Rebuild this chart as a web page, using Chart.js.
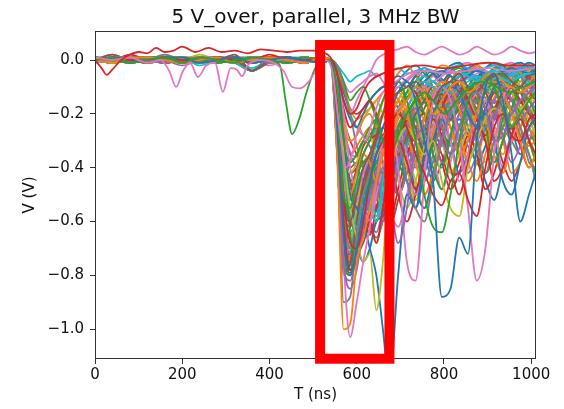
<!DOCTYPE html>
<html>
<head>
<meta charset="utf-8">
<script src="https://cdn.jsdelivr.net/npm/chart.js@4.4.1/dist/chart.umd.min.js"></script>
<style>
  body { margin: 0; background: #fff; }
</style>
</head>
<body>
<canvas id="chart" width="564" height="409"></canvas>
<script>
// sample times (ns) shared by most sweeps
const T = [0,40,80,120,160,200,240,280,320,360,400,440,480,520,540,555,570,585,600,615,630,645,660,675,695,715,735,755,775,795,815,835,855,875,895,915,935,955,975,995,1010];

// sweeps (V), one row per trace
const sweepsA = [
  [0.00,0.01,-0.01,0.00,0.01,0.01,-0.01,0.00,0.01,-0.01,0.00,0.01,0.00,-0.01, 0.00,-0.25,-0.65,-0.80,-0.70,-0.55,-0.45,-0.35,-0.25,-0.20,-0.12,-0.08,-0.15,-0.30,-0.45,-0.88,-0.85,-0.66,-0.72,-0.30,-0.10,-0.05,-0.15,-0.35,-0.60,-0.50,-0.42],
  [0.00,-0.01,0.01,0.01,0.00,-0.01,0.00,0.01,-0.01,0.00,0.01,0.00,-0.01,0.01, 0.00,-0.35,-1.00,-0.98,-0.75,-0.66,-0.55,-0.45,-0.35,-0.28,-0.20,-0.15,-0.10,-0.12,-0.20,-0.15,-0.10,-0.08,-0.12,-0.10,-0.06,-0.05,-0.08,-0.10,-0.12,-0.10,-0.08],
  [0.01,0.00,-0.01,0.01,0.00,0.01,0.00,-0.01,0.00,0.01,0.00,-0.01,0.01,0.00, 0.00,-0.20,-0.50,-0.55,-0.45,-0.35,-0.30,-0.22,-0.15,-0.10,-0.08,-0.15,-0.30,-0.50,-0.62,-0.64,-0.50,-0.30,-0.15,-0.10,-0.06,-0.10,-0.18,-0.25,-0.20,-0.15,-0.12],
  [0.00,0.01,0.00,-0.01,0.01,0.00,0.00,0.01,0.00,-0.01,0.01,0.01,0.00,0.00, 0.00,-0.15,-0.50,-0.68,-0.70,-0.60,-0.45,-0.35,-0.30,-0.25,-0.20,-0.25,-0.35,-0.42,-0.50,-0.54,-0.45,-0.42,-0.52,-0.58,-0.40,-0.25,-0.20,-0.28,-0.30,-0.22,-0.20],
  [0.00,0.00,0.01,0.00,-0.01,0.00,0.01,0.01,0.00,0.00,-0.01,0.00,0.01,0.00, 0.00,-0.30,-0.75,-0.85,-0.78,-0.62,-0.50,-0.45,-0.40,-0.50,-0.68,-0.55,-0.30,-0.25,-0.20,-0.30,-0.35,-0.25,-0.15,-0.12,-0.18,-0.30,-0.28,-0.20,-0.15,-0.12,-0.10],
  [0.00,0.01,0.00,0.01,-0.01,0.00,0.00,-0.01,0.01,-0.04,0.00,0.01,0.00,0.01, 0.00,-0.22,-0.55,-0.60,-0.50,-0.40,-0.35,-0.28,-0.20,-0.15,-0.12,-0.10,-0.08,-0.12,-0.15,-0.10,-0.08,-0.05,-0.10,-0.12,-0.08,-0.06,-0.05,-0.08,-0.10,-0.06,-0.05],
  [0.00,0.00,-0.01,0.01,0.00,0.00,0.01,-0.01,0.00,0.01,0.00,0.00,-0.01,0.00, 0.00,-0.20,-0.75,-1.03,-0.90,-0.75,-0.62,-0.45,-0.30,-0.25,-0.40,-0.75,-0.82,-0.45,-0.15,-0.10,-0.15,-0.30,-0.55,-0.82,-0.70,-0.35,-0.15,-0.10,-0.12,-0.10,-0.08],
  [0.01,0.00,0.00,-0.01,0.01,0.00,-0.01,0.00,0.01,0.00,0.00,0.01,-0.01,0.00, 0.00,-0.30,-0.90,-0.88,-0.65,-0.50,-0.42,-0.35,-0.30,-0.25,-0.30,-0.45,-0.55,-0.60,-0.45,-0.30,-0.20,-0.15,-0.12,-0.20,-0.25,-0.20,-0.15,-0.12,-0.10,-0.12,-0.10],
  [0.00,-0.01,0.00,0.01,0.00,0.01,-0.01,0.00,0.00,0.01,-0.01,0.00,0.01,0.00, 0.00,-0.10,-0.35,-0.55,-0.66,-0.75,-0.72,-0.93,-0.75,-0.45,-0.30,-0.25,-0.30,-0.35,-0.30,-0.45,-0.55,-0.58,-0.40,-0.30,-0.22,-0.18,-0.20,-0.25,-0.20,-0.15,-0.15],
  [0.00,0.01,0.01,0.00,-0.01,0.01,0.00,0.00,-0.01,-0.04,0.00,0.01,0.00,-0.01, 0.00,-0.10,-0.40,-0.55,-0.62,-0.55,-0.50,-0.58,-0.45,-0.30,-0.20,-0.15,-0.10,-0.08,-0.10,-0.12,-0.08,-0.05,-0.06,-0.08,-0.05,-0.04,-0.05,-0.06,-0.04,-0.03,-0.03],
  [0.00,-0.01,0.00,0.00,0.01,-0.01,0.00,0.01,0.00,0.00,0.01,-0.01,0.00,0.01, 0.00,-0.05,-0.30,-0.50,-0.55,-0.60,-0.70,-0.80,-1.00,-1.20,-0.80,-0.50,-0.55,-0.35,-0.20,-0.15,-0.10,-0.12,-0.20,-0.25,-0.18,-0.10,-0.08,-0.10,-0.12,-0.10,-0.08],
  [0.00,0.01,0.00,-0.01,0.00,0.01,0.01,0.00,-0.01,0.00,0.01,0.00,0.00,0.01, 0.00,-0.15,-0.45,-0.50,-0.42,-0.35,-0.38,-0.45,-0.35,-0.25,-0.15,-0.20,-0.30,-0.22,-0.12,-0.08,-0.10,-0.18,-0.28,-0.20,-0.10,-0.08,-0.12,-0.20,-0.30,-0.40,-0.35],
  [0.00,-0.01,0.00,0.01,0.01,0.00,-0.01,0.01,0.00,0.01,0.00,-0.01,0.01,0.00, 0.00,-0.05,-0.30,-0.65,-0.72,-0.60,-0.48,-0.40,-0.42,-0.35,-0.25,-0.20,-0.15,-0.20,-0.35,-0.40,-0.28,-0.15,-0.10,-0.12,-0.25,-0.38,-0.30,-0.18,-0.12,-0.15,-0.20],
  [0.01,0.00,0.02,0.00,-0.01,0.00,0.01,-0.01,0.01,0.00,0.02,0.00,-0.01,0.00, 0.00,-0.20,-0.60,-0.78,-0.75,-0.65,-0.60,-0.68,-0.55,-0.40,-0.30,-0.38,-0.48,-0.35,-0.22,-0.28,-0.40,-0.50,-0.38,-0.25,-0.30,-0.45,-0.40,-0.28,-0.22,-0.30,-0.35],
  [0.00,0.00,-0.01,0.01,0.00,-0.02,0.00,0.01,0.00,-0.01,0.01,0.01,0.00,-0.01, 0.00,-0.10,-0.40,-0.58,-0.62,-0.58,-0.52,-0.45,-0.50,-0.55,-0.40,-0.25,-0.18,-0.30,-0.42,-0.30,-0.18,-0.12,-0.20,-0.30,-0.22,-0.15,-0.10,-0.15,-0.22,-0.18,-0.15],
  [0.00,0.02,0.00,0.00,0.01,-0.01,0.01,0.00,0.02,-0.04,-0.01,0.00,0.01,0.00, 0.00,-0.25,-0.70,-0.75,-0.60,-0.45,-0.38,-0.30,-0.25,-0.30,-0.35,-0.28,-0.20,-0.15,-0.10,-0.15,-0.22,-0.18,-0.12,-0.08,-0.12,-0.18,-0.15,-0.10,-0.12,-0.20,-0.25],
  [-0.01,0.00,0.01,-0.01,0.00,0.01,-0.01,0.00,0.00,0.01,-0.02,0.00,0.01,0.00, 0.00,-0.05,-0.20,-0.40,-0.50,-0.55,-0.60,-0.50,-0.40,-0.30,-0.25,-0.35,-0.50,-0.40,-0.25,-0.20,-0.30,-0.45,-0.35,-0.20,-0.15,-0.25,-0.40,-0.30,-0.20,-0.15,-0.20],
  [0.00,0.01,-0.01,0.00,0.02,0.00,0.00,-0.01,0.01,0.00,0.00,0.01,-0.01,0.00, 0.00,-0.18,-0.55,-0.70,-0.60,-0.50,-0.45,-0.52,-0.42,-0.32,-0.25,-0.20,-0.30,-0.45,-0.35,-0.22,-0.15,-0.12,-0.18,-0.28,-0.42,-0.30,-0.20,-0.15,-0.25,-0.38,-0.40],
  [0.01,-0.01,0.00,0.01,0.00,0.00,0.02,0.00,-0.01,0.01,0.00,-0.01,0.00,0.01, 0.00,-0.12,-0.35,-0.42,-0.38,-0.30,-0.28,-0.35,-0.30,-0.22,-0.15,-0.10,-0.18,-0.30,-0.22,-0.15,-0.10,-0.08,-0.12,-0.20,-0.15,-0.10,-0.08,-0.12,-0.18,-0.15,-0.12],
  [0.00,0.01,0.00,-0.01,0.00,0.01,-0.02,0.00,0.01,-0.01,0.00,0.01,0.01,0.00, 0.00,-0.20,-0.62,-0.70,-0.58,-0.50,-0.55,-0.60,-0.50,-0.38,-0.30,-0.25,-0.20,-0.15,-0.12,-0.10,-0.12,-0.15,-0.10,-0.08,-0.06,-0.05,-0.07,-0.08,-0.06,-0.05,-0.05]
];
const sweepsB = [
  [0.00,0.00,0.01,-0.01,0.01,0.00,0.00,0.01,-0.01,0.00,0.01,-0.01,0.00,0.00, 0.00,-0.10,-0.35,-0.55,-0.68,-0.75,-0.70,-0.60,-0.58,-0.50,-0.35,-0.45,-0.55,-0.42,-0.30,-0.22,-0.30,-0.42,-0.35,-0.25,-0.20,-0.30,-0.45,-0.50,-0.38,-0.25,-0.22],
  [0.01,0.00,-0.01,0.00,0.01,0.01,0.00,-0.01,0.00,0.01,0.00,0.00,0.01,-0.01, 0.00,-0.08,-0.25,-0.30,-0.28,-0.22,-0.20,-0.25,-0.20,-0.15,-0.12,-0.18,-0.30,-0.38,-0.28,-0.18,-0.25,-0.35,-0.30,-0.20,-0.22,-0.35,-0.42,-0.30,-0.20,-0.25,-0.30],
  [0.00,-0.01,0.01,0.00,0.00,-0.01,0.01,0.00,0.01,0.00,-0.01,0.01,0.00,0.00, 0.00,-0.30,-0.75,-0.80,-0.65,-0.52,-0.45,-0.38,-0.45,-0.52,-0.42,-0.30,-0.22,-0.28,-0.40,-0.48,-0.35,-0.25,-0.20,-0.30,-0.42,-0.35,-0.22,-0.15,-0.20,-0.30,-0.38],
  [0.00,0.01,0.00,0.01,0.00,-0.01,0.00,0.00,0.01,-0.01,0.01,0.00,-0.01,0.01, 0.00,-0.05,-0.18,-0.25,-0.22,-0.18,-0.15,-0.20,-0.28,-0.22,-0.15,-0.10,-0.12,-0.20,-0.25,-0.18,-0.10,-0.08,-0.15,-0.22,-0.28,-0.20,-0.12,-0.10,-0.15,-0.20,-0.22],
  [0.01,0.00,0.00,-0.01,0.01,0.00,0.01,-0.01,0.00,0.00,0.01,0.00,-0.01,0.00, 0.00,-0.22,-0.60,-0.72,-0.70,-0.62,-0.55,-0.48,-0.42,-0.38,-0.32,-0.28,-0.35,-0.45,-0.38,-0.28,-0.22,-0.30,-0.42,-0.35,-0.25,-0.20,-0.28,-0.38,-0.32,-0.25,-0.22],
  [0.00,0.00,0.01,0.01,-0.01,0.00,0.00,0.01,0.00,-0.04,0.00,0.00,0.01,-0.01, 0.00,-0.10,-0.30,-0.45,-0.55,-0.48,-0.40,-0.45,-0.52,-0.40,-0.28,-0.20,-0.25,-0.35,-0.28,-0.18,-0.12,-0.18,-0.28,-0.22,-0.15,-0.12,-0.18,-0.25,-0.20,-0.15,-0.12],
  [0.00,0.02,0.00,0.00,0.01,0.00,-0.01,0.00,0.01,0.00,0.00,-0.01,0.01,0.00, 0.00,-0.15,-0.45,-0.55,-0.50,-0.42,-0.35,-0.30,-0.25,-0.22,-0.18,-0.15,-0.12,-0.10,-0.15,-0.22,-0.30,-0.25,-0.18,-0.12,-0.10,-0.08,-0.12,-0.18,-0.15,-0.10,-0.08],
  [-0.01,0.00,0.01,0.00,-0.01,0.01,0.00,0.00,-0.01,0.01,0.00,0.01,0.00,-0.01, 0.00,-0.02,-0.10,-0.20,-0.32,-0.40,-0.45,-0.40,-0.35,-0.30,-0.35,-0.42,-0.35,-0.25,-0.18,-0.25,-0.35,-0.30,-0.20,-0.15,-0.22,-0.30,-0.25,-0.18,-0.12,-0.18,-0.25],
  [0.00,0.01,-0.01,0.01,0.00,0.00,0.01,0.00,-0.01,0.00,0.01,-0.01,0.00,0.01, 0.00,-0.28,-0.72,-0.70,-0.55,-0.45,-0.50,-0.58,-0.50,-0.42,-0.45,-0.55,-0.45,-0.32,-0.25,-0.30,-0.42,-0.35,-0.25,-0.20,-0.28,-0.38,-0.30,-0.22,-0.18,-0.22,-0.28],
  [0.00,0.00,0.00,0.01,-0.01,0.01,0.00,-0.01,0.00,-0.04,0.01,0.00,0.00,0.00, 0.00,-0.12,-0.40,-0.50,-0.48,-0.42,-0.38,-0.32,-0.30,-0.35,-0.40,-0.32,-0.22,-0.15,-0.12,-0.15,-0.20,-0.15,-0.10,-0.08,-0.10,-0.12,-0.10,-0.08,-0.06,-0.08,-0.10],
  [0.01,0.00,0.01,-0.01,0.00,0.00,-0.01,0.01,0.00,0.00,-0.01,0.01,0.00,0.00, 0.00,-0.05,-0.15,-0.22,-0.25,-0.20,-0.15,-0.12,-0.10,-0.08,-0.06,-0.08,-0.10,-0.08,-0.05,-0.04,-0.06,-0.08,-0.06,-0.04,-0.05,-0.06,-0.04,-0.03,-0.04,-0.05,-0.04],
  [0.00,-0.01,0.00,0.00,0.01,0.01,0.00,-0.01,0.01,0.00,0.00,0.00,-0.01,0.01, 0.00,-0.20,-0.55,-0.65,-0.62,-0.55,-0.48,-0.50,-0.55,-0.45,-0.35,-0.30,-0.38,-0.50,-0.42,-0.30,-0.22,-0.28,-0.38,-0.45,-0.35,-0.25,-0.30,-0.42,-0.38,-0.30,-0.35],
  [0.00,0.01,0.01,0.00,0.00,-0.01,0.01,0.00,0.00,0.01,-0.01,0.00,0.01,0.00, 0.00,-0.02,-0.08,-0.15,-0.12,-0.10,-0.15,-0.22,-0.30,-0.25,-0.18,-0.12,-0.10,-0.15,-0.20,-0.15,-0.10,-0.08,-0.12,-0.18,-0.12,-0.08,-0.06,-0.10,-0.15,-0.12,-0.10],
  [0.01,0.00,0.00,0.01,-0.01,0.00,0.01,0.00,0.01,-0.01,0.00,0.00,0.00,-0.01, 0.00,-0.25,-0.68,-0.62,-0.50,-0.58,-0.65,-0.55,-0.45,-0.38,-0.50,-0.60,-0.50,-0.38,-0.30,-0.35,-0.45,-0.38,-0.28,-0.35,-0.48,-0.42,-0.30,-0.25,-0.32,-0.40,-0.35],
  [0.00,0.00,-0.01,0.01,0.01,0.00,-0.01,0.00,0.00,0.01,0.01,-0.01,0.00,0.01, 0.00,-0.08,-0.25,-0.35,-0.40,-0.45,-0.50,-0.42,-0.35,-0.40,-0.50,-0.42,-0.30,-0.22,-0.28,-0.38,-0.30,-0.20,-0.15,-0.20,-0.28,-0.22,-0.15,-0.12,-0.18,-0.25,-0.20],
  [0.00,0.01,0.00,-0.01,0.00,0.01,0.00,0.01,-0.01,-0.04,0.00,0.01,-0.01,0.00, 0.00,-0.15,-0.42,-0.48,-0.40,-0.32,-0.28,-0.25,-0.30,-0.38,-0.30,-0.20,-0.15,-0.12,-0.18,-0.25,-0.20,-0.12,-0.10,-0.15,-0.22,-0.18,-0.12,-0.10,-0.12,-0.15,-0.12],
  [0.01,0.00,0.01,0.00,0.02,0.00,0.01,-0.01,0.00,0.01,0.00,0.01,0.00,0.00, 0.00,-0.05,-0.15,-0.20,-0.15,-0.10,-0.05,0.00,0.02,0.03,0.04,0.05,0.03,0.02,0.035,0.05,0.035,0.02,0.03,0.05,0.035,0.02,0.03,0.05,0.035,0.025,0.03],
  [0.00,-0.01,0.00,0.01,0.00,0.00,-0.01,0.01,0.01,0.00,-0.01,0.00,0.01,-0.01, 0.00,-0.10,-0.32,-0.38,-0.35,-0.30,-0.32,-0.38,-0.42,-0.35,-0.25,-0.18,-0.22,-0.30,-0.38,-0.30,-0.20,-0.15,-0.18,-0.25,-0.30,-0.22,-0.15,-0.18,-0.28,-0.35,-0.45],
  [0.00,0.01,0.00,0.00,-0.01,0.01,0.01,0.00,-0.01,0.00,0.01,0.00,0.00,0.01, 0.00,-0.05,-0.20,-0.30,-0.28,-0.22,-0.18,-0.15,-0.20,-0.25,-0.30,-0.40,-0.52,-0.40,-0.25,-0.15,-0.12,-0.18,-0.25,-0.20,-0.12,-0.10,-0.15,-0.22,-0.18,-0.12,-0.10],
  [0.00,0.00,0.01,0.00,0.00,-0.01,0.00,0.01,0.00,-0.04,0.00,-0.01,0.01,0.00, 0.00,-0.22,-0.58,-0.65,-0.60,-0.52,-0.45,-0.42,-0.40,-0.35,-0.25,-0.18,-0.12,-0.10,-0.08,-0.10,-0.12,-0.10,-0.08,-0.06,-0.08,-0.10,-0.08,-0.05,-0.04,-0.05,-0.06]
];
const sweepsC = [
  [0.01,0.00,-0.01,0.00,0.01,0.00,0.00,-0.01,0.01,0.01,0.00,-0.01,0.00,0.01, 0.00,-0.15,-0.50,-0.60,-0.55,-0.48,-0.42,-0.38,-0.35,-0.30,-0.25,-0.35,-0.48,-0.55,-0.42,-0.30,-0.22,-0.18,-0.25,-0.35,-0.45,-0.52,-0.40,-0.28,-0.20,-0.25,-0.30],
  [0.00,0.01,0.00,0.01,0.00,-0.01,0.01,0.00,0.00,0.00,0.01,0.01,-0.01,0.00, 0.00,-0.03,-0.10,-0.18,-0.22,-0.20,-0.18,-0.15,-0.12,-0.10,-0.15,-0.22,-0.18,-0.12,-0.10,-0.15,-0.25,-0.35,-0.45,-0.38,-0.25,-0.18,-0.22,-0.30,-0.25,-0.20,-0.22],
  [0.00,-0.01,0.01,0.00,0.01,0.00,-0.01,0.00,0.01,0.00,0.00,0.00,0.01,0.00, 0.00,-0.18,-0.50,-0.55,-0.48,-0.40,-0.35,-0.32,-0.38,-0.45,-0.50,-0.42,-0.30,-0.22,-0.18,-0.25,-0.32,-0.25,-0.18,-0.20,-0.30,-0.38,-0.30,-0.22,-0.25,-0.35,-0.42],
  [0.01,0.00,0.00,0.00,-0.01,0.01,0.00,0.01,-0.01,0.00,0.01,0.00,0.00,-0.01, 0.00,-0.12,-0.35,-0.42,-0.40,-0.35,-0.30,-0.28,-0.32,-0.38,-0.30,-0.22,-0.18,-0.20,-0.28,-0.25,-0.18,-0.12,-0.10,-0.12,-0.18,-0.22,-0.18,-0.12,-0.10,-0.12,-0.15],
  [0.00,0.00,0.01,-0.01,0.00,0.01,0.00,0.00,0.01,-0.01,0.00,0.01,0.00,0.00, 0.00,-0.30,-0.78,-0.82,-0.72,-0.60,-0.52,-0.55,-0.60,-0.50,-0.38,-0.30,-0.25,-0.30,-0.38,-0.30,-0.22,-0.25,-0.32,-0.28,-0.20,-0.15,-0.20,-0.28,-0.25,-0.18,-0.15],
  [0.00,0.01,0.00,0.00,0.01,-0.01,0.00,-0.01,0.00,-0.04,0.01,0.00,-0.01,0.01, 0.00,-0.05,-0.12,-0.18,-0.20,-0.18,-0.15,-0.12,-0.10,-0.12,-0.18,-0.25,-0.30,-0.22,-0.15,-0.10,-0.08,-0.10,-0.15,-0.20,-0.15,-0.10,-0.08,-0.10,-0.12,-0.10,-0.08],
  [0.00,0.00,-0.01,0.01,0.00,0.00,0.01,0.00,-0.01,0.01,0.00,0.00,0.01,0.00, 0.00,-0.22,-0.62,-0.68,-0.60,-0.50,-0.42,-0.38,-0.45,-0.55,-0.62,-0.50,-0.35,-0.28,-0.35,-0.48,-0.38,-0.25,-0.20,-0.28,-0.38,-0.30,-0.20,-0.15,-0.20,-0.28,-0.25],
  [0.01,-0.01,0.00,0.00,0.01,0.00,0.00,0.01,0.00,-0.01,0.00,0.01,0.00,-0.01, 0.00,-0.18,-0.48,-0.58,-0.52,-0.45,-0.40,-0.35,-0.30,-0.28,-0.32,-0.40,-0.48,-0.38,-0.25,-0.20,-0.25,-0.32,-0.28,-0.20,-0.15,-0.18,-0.25,-0.30,-0.35,-0.30,-0.25],
  [0.00,0.01,0.01,0.00,0.00,-0.01,0.01,0.00,0.00,0.01,-0.01,0.00,0.00,0.01, 0.00,-0.10,-0.30,-0.48,-0.58,-0.52,-0.45,-0.40,-0.42,-0.48,-0.40,-0.30,-0.38,-0.50,-0.42,-0.30,-0.25,-0.30,-0.38,-0.30,-0.22,-0.28,-0.35,-0.28,-0.20,-0.18,-0.20],
  [0.00,0.00,0.00,0.01,-0.01,0.00,0.01,-0.01,0.01,0.00,0.00,-0.01,0.01,0.00, 0.00,-0.03,-0.12,-0.20,-0.25,-0.28,-0.30,-0.25,-0.20,-0.15,-0.12,-0.10,-0.08,-0.06,-0.08,-0.10,-0.08,-0.06,-0.05,-0.07,-0.09,-0.07,-0.05,-0.04,-0.06,-0.05,-0.04],
  [0.01,0.00,0.00,-0.01,0.00,0.01,0.00,0.00,-0.01,0.01,0.01,0.00,0.00,-0.01, 0.00,-0.25,-0.70,-0.72,-0.60,-0.50,-0.45,-0.48,-0.55,-0.50,-0.40,-0.32,-0.28,-0.35,-0.45,-0.38,-0.28,-0.22,-0.28,-0.38,-0.32,-0.22,-0.18,-0.25,-0.35,-0.30,-0.25],
  [0.00,-0.01,0.01,0.00,0.00,0.01,-0.01,0.01,0.00,0.00,0.00,0.01,-0.01,0.00, 0.00,-0.10,-0.28,-0.35,-0.32,-0.28,-0.25,-0.30,-0.38,-0.32,-0.22,-0.18,-0.22,-0.30,-0.25,-0.18,-0.15,-0.20,-0.28,-0.32,-0.25,-0.18,-0.15,-0.20,-0.28,-0.32,-0.30],
  [0.00,0.01,0.00,0.01,0.01,0.00,0.00,-0.01,0.00,0.01,-0.01,0.00,0.01,0.00, 0.00,-0.15,-0.38,-0.45,-0.42,-0.38,-0.35,-0.30,-0.28,-0.32,-0.38,-0.45,-0.50,-0.42,-0.32,-0.25,-0.20,-0.25,-0.32,-0.38,-0.42,-0.35,-0.25,-0.20,-0.18,-0.25,-0.32],
  [0.01,0.00,-0.01,0.00,0.00,0.00,0.01,0.00,0.01,-0.01,0.00,0.00,-0.01,0.01, 0.00,-0.08,-0.22,-0.30,-0.35,-0.38,-0.42,-0.48,-0.55,-0.60,-0.48,-0.35,-0.28,-0.25,-0.30,-0.38,-0.48,-0.42,-0.30,-0.22,-0.20,-0.28,-0.38,-0.45,-0.38,-0.30,-0.28],
  [0.00,0.00,0.01,0.00,-0.01,0.01,0.00,0.01,0.00,0.00,0.01,-0.01,0.00,0.00, 0.00,-0.20,-0.55,-0.62,-0.55,-0.48,-0.42,-0.38,-0.35,-0.30,-0.28,-0.32,-0.40,-0.35,-0.25,-0.20,-0.25,-0.30,-0.25,-0.18,-0.15,-0.20,-0.28,-0.25,-0.18,-0.15,-0.18],
  [0.00,0.01,0.00,0.00,0.01,-0.01,0.01,0.00,-0.01,-0.04,0.00,0.01,0.00,0.00, 0.00,-0.12,-0.35,-0.40,-0.38,-0.40,-0.45,-0.50,-0.45,-0.38,-0.30,-0.25,-0.22,-0.20,-0.25,-0.32,-0.28,-0.20,-0.15,-0.18,-0.25,-0.30,-0.25,-0.18,-0.15,-0.18,-0.22],
  [0.01,0.00,0.01,-0.01,0.00,0.00,0.01,0.00,0.01,0.00,-0.01,0.00,0.01,0.00, 0.00,-0.02,-0.08,-0.12,-0.10,-0.08,-0.06,-0.05,-0.08,-0.12,-0.10,-0.07,-0.05,-0.06,-0.08,-0.06,-0.04,-0.05,-0.07,-0.05,-0.04,-0.06,-0.08,-0.06,-0.04,-0.05,-0.06],
  [0.00,0.00,0.00,0.01,0.00,-0.01,0.00,0.01,0.00,0.01,0.00,-0.01,0.00,0.01, 0.00,-0.20,-0.52,-0.55,-0.48,-0.50,-0.55,-0.48,-0.40,-0.35,-0.38,-0.45,-0.38,-0.28,-0.22,-0.28,-0.35,-0.30,-0.22,-0.18,-0.22,-0.30,-0.35,-0.28,-0.20,-0.22,-0.28],
  [0.00,-0.01,0.00,0.00,0.01,0.01,-0.01,0.00,0.01,0.00,0.01,0.00,-0.01,0.00, 0.00,-0.25,-0.65,-0.68,-0.55,-0.45,-0.50,-0.60,-0.50,-0.38,-0.28,-0.35,-0.45,-0.55,-0.45,-0.30,-0.22,-0.25,-0.35,-0.30,-0.20,-0.15,-0.20,-0.30,-0.25,-0.18,-0.20],
  [0.01,0.00,0.01,0.00,0.00,0.00,-0.01,0.00,0.00,-0.03,0.00,0.01,0.00,0.00, 0.00,-0.02,-0.05,-0.08,-0.06,-0.05,-0.04,-0.06,-0.05,-0.04,-0.03,-0.05,-0.04,-0.03,-0.04,-0.05,-0.03,-0.02,-0.03,-0.04,-0.03,-0.02,-0.03,-0.04,-0.03,-0.02,-0.03]
];
const sweepsD = [
  [0.00,0.01,0.00,-0.01,0.01,0.00,0.01,0.00,-0.01,0.00,0.00,0.01,0.00,-0.01, 0.00,-0.30,-0.78,-0.76,-0.62,-0.50,-0.40,-0.30,-0.20,-0.12,-0.08,-0.10,-0.06,-0.03,-0.05,-0.08,-0.04,-0.02,-0.05,-0.07,-0.03,-0.02,-0.04,-0.06,-0.03,-0.02,-0.04],
  [0.01,0.00,-0.01,0.00,0.00,0.01,-0.01,0.00,0.01,0.00,-0.01,0.00,0.01,0.00, 0.00,-0.32,-0.80,-0.72,-0.55,-0.45,-0.38,-0.25,-0.15,-0.10,-0.05,-0.02,-0.06,-0.10,-0.05,-0.02,-0.03,-0.08,-0.05,-0.02,-0.04,-0.07,-0.04,-0.02,-0.05,-0.08,-0.05],
  [0.00,-0.01,0.01,0.01,0.00,0.00,0.00,0.01,-0.01,0.01,0.00,-0.01,0.00,0.01, 0.00,-0.28,-0.70,-0.78,-0.70,-0.60,-0.52,-0.42,-0.30,-0.18,-0.10,-0.14,-0.08,-0.04,-0.10,-0.15,-0.08,-0.04,-0.06,-0.12,-0.08,-0.03,-0.05,-0.10,-0.06,-0.03,-0.05],
  [0.00,0.00,0.01,-0.01,0.01,0.00,-0.01,0.00,0.00,0.01,0.01,0.00,-0.01,0.00, 0.00,-0.25,-0.68,-0.74,-0.66,-0.62,-0.58,-0.50,-0.40,-0.30,-0.20,-0.15,-0.10,-0.15,-0.20,-0.12,-0.06,-0.10,-0.16,-0.10,-0.05,-0.08,-0.14,-0.10,-0.05,-0.07,-0.10],
  [0.01,0.01,0.00,0.00,-0.01,0.00,0.01,0.00,0.00,-0.01,0.00,0.01,0.00,0.01, 0.00,-0.35,-0.76,-0.70,-0.60,-0.55,-0.60,-0.64,-0.55,-0.42,-0.28,-0.18,-0.12,-0.08,-0.12,-0.18,-0.12,-0.06,-0.04,-0.08,-0.12,-0.08,-0.04,-0.03,-0.06,-0.10,-0.08],
  [0.00,0.00,-0.01,0.00,0.01,0.01,0.00,-0.01,0.00,0.00,0.01,0.00,0.00,-0.01, 0.00,-0.22,-0.60,-0.70,-0.72,-0.68,-0.60,-0.55,-0.50,-0.45,-0.35,-0.25,-0.20,-0.25,-0.30,-0.22,-0.14,-0.10,-0.14,-0.20,-0.16,-0.10,-0.06,-0.10,-0.16,-0.12,-0.08],
  [0.00,0.01,0.00,0.01,0.00,-0.01,0.00,0.01,0.01,0.00,-0.01,0.00,0.01,0.00, 0.00,-0.30,-0.74,-0.80,-0.68,-0.52,-0.44,-0.48,-0.52,-0.45,-0.30,-0.20,-0.15,-0.10,-0.06,-0.10,-0.14,-0.10,-0.05,-0.03,-0.06,-0.10,-0.07,-0.04,-0.02,-0.05,-0.07],
  [-0.01,0.00,0.00,0.01,0.00,0.00,0.01,-0.01,0.00,0.01,0.00,0.00,-0.01,0.01, 0.00,-0.18,-0.55,-0.66,-0.64,-0.60,-0.62,-0.66,-0.60,-0.50,-0.35,-0.25,-0.30,-0.36,-0.25,-0.15,-0.10,-0.14,-0.20,-0.15,-0.08,-0.05,-0.08,-0.14,-0.10,-0.06,-0.05],
  [0.00,0.00,0.01,0.00,0.00,0.01,-0.01,0.00,0.01,-0.01,0.00,0.01,0.00,0.00, 0.00,-0.30,-0.72,-0.75,-0.62,-0.50,-0.42,-0.36,-0.30,-0.24,-0.18,-0.12,-0.16,-0.22,-0.16,-0.10,-0.06,-0.10,-0.15,-0.10,-0.05,-0.04,-0.08,-0.12,-0.08,-0.04,-0.03],
  [0.01,0.00,0.00,-0.01,0.01,0.00,0.00,0.00,-0.01,0.00,0.01,-0.01,0.00,0.01, 0.00,-0.20,-0.58,-0.64,-0.58,-0.52,-0.56,-0.60,-0.52,-0.40,-0.28,-0.30,-0.36,-0.26,-0.16,-0.12,-0.18,-0.24,-0.16,-0.10,-0.12,-0.18,-0.14,-0.08,-0.06,-0.10,-0.14],
  [0.00,-0.01,0.00,0.01,0.00,0.00,0.01,0.01,0.00,-0.01,0.00,0.00,0.01,0.00, 0.00,-0.33,-0.79,-0.74,-0.60,-0.48,-0.36,-0.26,-0.20,-0.14,-0.08,-0.04,-0.02,-0.05,-0.08,-0.05,-0.02,-0.01,-0.04,-0.06,-0.03,-0.01,-0.02,-0.05,-0.03,-0.01,-0.02],
  [0.00,0.01,0.01,0.00,-0.01,0.00,0.00,0.01,0.00,0.01,-0.01,0.00,0.00,0.01, 0.00,-0.26,-0.66,-0.72,-0.64,-0.56,-0.50,-0.44,-0.46,-0.50,-0.42,-0.30,-0.22,-0.16,-0.20,-0.26,-0.20,-0.14,-0.10,-0.14,-0.20,-0.15,-0.10,-0.07,-0.10,-0.15,-0.12],
  [0.01,0.00,0.00,0.00,0.01,-0.01,0.00,0.00,0.01,0.00,0.00,0.01,-0.01,0.00, 0.00,-0.15,-0.48,-0.60,-0.62,-0.58,-0.52,-0.46,-0.40,-0.36,-0.30,-0.22,-0.14,-0.08,-0.12,-0.18,-0.12,-0.06,-0.04,-0.07,-0.11,-0.07,-0.04,-0.02,-0.05,-0.08,-0.06],
  [0.00,0.00,-0.01,0.01,0.00,0.01,0.00,-0.01,0.00,0.00,0.01,0.00,0.01,-0.01, 0.00,-0.30,-0.75,-0.78,-0.66,-0.58,-0.54,-0.50,-0.44,-0.36,-0.26,-0.18,-0.22,-0.28,-0.20,-0.12,-0.08,-0.12,-0.18,-0.12,-0.06,-0.05,-0.10,-0.15,-0.10,-0.05,-0.04],
  [0.00,0.01,0.00,0.00,0.00,-0.01,0.01,0.00,-0.01,0.01,0.00,-0.01,0.00,0.00, 0.00,-0.24,-0.64,-0.70,-0.60,-0.50,-0.46,-0.50,-0.56,-0.48,-0.34,-0.22,-0.14,-0.10,-0.14,-0.20,-0.14,-0.08,-0.05,-0.09,-0.14,-0.10,-0.05,-0.03,-0.06,-0.10,-0.07],
  [0.01,0.00,0.01,0.00,-0.01,0.00,0.00,0.01,0.00,0.00,-0.01,0.01,0.00,0.00, 0.00,-0.12,-0.42,-0.55,-0.58,-0.60,-0.64,-0.60,-0.54,-0.46,-0.36,-0.26,-0.18,-0.12,-0.08,-0.12,-0.16,-0.10,-0.05,-0.04,-0.08,-0.12,-0.08,-0.04,-0.03,-0.06,-0.09],
  [0.00,-0.01,0.00,0.00,0.01,0.00,-0.01,0.00,0.01,0.00,0.01,0.00,-0.01,0.01, 0.00,-0.34,-0.77,-0.73,-0.60,-0.52,-0.48,-0.42,-0.34,-0.26,-0.20,-0.24,-0.30,-0.22,-0.14,-0.10,-0.14,-0.20,-0.14,-0.08,-0.06,-0.10,-0.16,-0.10,-0.06,-0.08,-0.12],
  [0.00,0.00,0.01,0.01,0.00,0.00,0.01,-0.01,0.00,0.00,0.00,0.01,0.00,-0.01, 0.00,-0.20,-0.56,-0.62,-0.56,-0.48,-0.42,-0.38,-0.34,-0.30,-0.24,-0.18,-0.12,-0.08,-0.05,-0.08,-0.12,-0.08,-0.04,-0.03,-0.06,-0.09,-0.06,-0.03,-0.02,-0.04,-0.06],
  [0.01,0.01,0.00,-0.01,0.00,0.01,0.00,0.00,-0.01,0.01,0.00,0.00,0.01,0.00, 0.00,-0.28,-0.70,-0.76,-0.72,-0.64,-0.56,-0.52,-0.48,-0.42,-0.34,-0.26,-0.20,-0.14,-0.10,-0.14,-0.20,-0.26,-0.20,-0.12,-0.08,-0.12,-0.18,-0.22,-0.16,-0.10,-0.08],
  [0.00,0.00,0.00,0.01,-0.01,0.00,0.01,0.00,0.00,-0.01,0.01,0.00,0.00,0.01, 0.00,-0.18,-0.50,-0.58,-0.50,-0.44,-0.48,-0.54,-0.46,-0.36,-0.26,-0.20,-0.26,-0.32,-0.24,-0.16,-0.10,-0.06,-0.10,-0.16,-0.12,-0.06,-0.04,-0.08,-0.12,-0.08,-0.05],
  [0.00,0.01,-0.01,0.00,0.00,0.01,0.00,-0.01,0.01,0.00,0.00,-0.01,0.00,0.00, 0.00,-0.10,-0.32,-0.45,-0.50,-0.48,-0.44,-0.38,-0.32,-0.26,-0.20,-0.14,-0.10,-0.06,-0.04,-0.07,-0.10,-0.06,-0.03,-0.02,-0.05,-0.08,-0.05,-0.02,-0.01,-0.03,-0.05],
  [0.01,0.00,0.00,0.00,0.01,0.00,-0.01,0.01,0.00,0.01,0.00,0.00,-0.01,0.00, 0.00,-0.27,-0.68,-0.70,-0.58,-0.46,-0.40,-0.44,-0.50,-0.42,-0.30,-0.24,-0.18,-0.22,-0.28,-0.20,-0.12,-0.08,-0.10,-0.16,-0.20,-0.14,-0.08,-0.06,-0.10,-0.14,-0.10],
  [0.00,0.00,0.01,-0.01,0.00,0.00,0.01,0.00,0.00,0.01,-0.01,0.01,0.00,0.00, 0.00,-0.22,-0.62,-0.68,-0.62,-0.56,-0.50,-0.42,-0.34,-0.28,-0.20,-0.12,-0.06,-0.10,-0.16,-0.10,-0.05,-0.03,-0.06,-0.10,-0.06,-0.03,-0.02,-0.05,-0.08,-0.05,-0.03],
  [0.00,-0.01,0.00,0.01,0.01,0.00,0.00,-0.01,0.00,0.00,0.01,0.00,0.00,0.01, 0.00,-0.31,-0.74,-0.72,-0.62,-0.54,-0.50,-0.46,-0.40,-0.34,-0.28,-0.32,-0.38,-0.30,-0.20,-0.14,-0.10,-0.14,-0.20,-0.24,-0.18,-0.12,-0.08,-0.12,-0.18,-0.14,-0.10],
  [0.01,0.00,0.00,0.00,0.00,-0.01,0.01,0.00,0.01,0.00,0.00,-0.01,0.01,0.00, 0.00,-0.16,-0.46,-0.52,-0.48,-0.42,-0.38,-0.34,-0.38,-0.42,-0.34,-0.24,-0.16,-0.10,-0.06,-0.10,-0.14,-0.10,-0.06,-0.04,-0.07,-0.10,-0.07,-0.04,-0.03,-0.05,-0.08],
  [0.00,0.01,0.00,0.00,-0.01,0.01,0.00,0.00,0.00,0.01,0.00,0.01,-0.01,0.00, 0.00,-0.29,-0.73,-0.79,-0.70,-0.62,-0.58,-0.54,-0.58,-0.62,-0.52,-0.38,-0.26,-0.18,-0.12,-0.16,-0.22,-0.16,-0.10,-0.06,-0.10,-0.16,-0.12,-0.07,-0.05,-0.08,-0.12],
  [0.00,0.00,0.01,0.00,0.01,0.00,-0.01,0.01,-0.01,0.00,0.01,0.00,0.00,0.00, 0.00,-0.08,-0.26,-0.34,-0.36,-0.32,-0.28,-0.24,-0.20,-0.16,-0.12,-0.08,-0.05,-0.03,-0.05,-0.08,-0.05,-0.02,-0.01,-0.03,-0.06,-0.04,-0.02,-0.01,-0.03,-0.05,-0.03],
  [0.01,-0.01,0.00,0.01,0.00,0.00,0.00,0.01,0.00,-0.01,0.00,0.00,0.01,-0.01, 0.00,-0.24,-0.64,-0.74,-0.70,-0.64,-0.60,-0.56,-0.50,-0.44,-0.36,-0.28,-0.22,-0.26,-0.32,-0.24,-0.16,-0.12,-0.16,-0.22,-0.18,-0.12,-0.08,-0.12,-0.18,-0.14,-0.10],
  [0.00,0.00,-0.01,0.00,0.01,0.01,0.00,0.00,0.01,0.00,-0.01,0.01,0.00,0.00, 0.00,-0.33,-0.78,-0.76,-0.64,-0.56,-0.62,-0.68,-0.58,-0.46,-0.34,-0.24,-0.16,-0.10,-0.14,-0.20,-0.14,-0.08,-0.05,-0.09,-0.14,-0.10,-0.05,-0.03,-0.06,-0.10,-0.07],
  [0.00,0.01,0.00,-0.01,0.00,0.00,0.01,0.00,0.00,0.01,0.00,-0.01,0.00,0.01, 0.00,-0.14,-0.40,-0.48,-0.46,-0.40,-0.36,-0.32,-0.28,-0.32,-0.38,-0.30,-0.20,-0.12,-0.08,-0.12,-0.18,-0.12,-0.06,-0.04,-0.08,-0.12,-0.08,-0.04,-0.02,-0.05,-0.08]
];

// traces with pre-trigger dark counts, on their own time bases
const redHighT = [0,15,27,40,60,80,100,120,140,160,180,200,230,260,290,320,350,380,410,440,470,500,520,540,555,570,585,600,615,630,660,700,750,800,850,900,950,1010];
const redHighV = [0,-0.03,-0.055,-0.035,0.0,0.02,0.03,0.025,0.045,0.03,0.035,0.05,0.03,0.045,0.03,0.035,0.025,0.04,0.035,0.03,0.035,0.035,0.03,0.01,-0.05,-0.15,-0.2,-0.18,-0.12,-0.08,-0.05,-0.03,-0.02,-0.03,-0.02,-0.01,-0.02,-0.02];
const pinkDarkT = [0,40,80,120,150,170,186,202,218,236,255,275,293,311,325,337,350,380,410,432,452,470,490,510,530,545,560,575,590,605,620,640,660,690,720,760,800,850,900,950,1010];
const pinkDarkV = [0.01,0.0,0.01,-0.01,0.0,-0.04,-0.10,-0.04,-0.01,-0.063,-0.02,-0.01,-0.118,-0.03,-0.035,-0.06,-0.02,0.0,-0.01,-0.04,-0.10,-0.105,-0.08,-0.03,0.0,-0.05,-0.25,-0.4,-0.35,-0.25,-0.3,-0.2,-0.12,-0.08,-0.05,-0.04,-0.05,-0.04,-0.03,-0.04,-0.03];
const greenDarkT = [0,40,80,120,160,200,240,280,320,360,400,424,437,452,468,485,505,520,540,555,570,585,600,615,630,645,660,675,695,715,735,755,775,800,830,860,890,920,950,980,1010];
const greenDarkV = [0,0.01,-0.01,0.0,0.01,-0.01,0.01,0.0,-0.01,0.01,0.0,-0.02,-0.15,-0.275,-0.22,-0.12,-0.03,0.0,0.0,-0.1,-0.3,-0.38,-0.35,-0.3,-0.25,-0.22,-0.3,-0.35,-0.28,-0.2,-0.15,-0.12,-0.15,-0.2,-0.15,-0.1,-0.08,-0.1,-0.12,-0.1,-0.08];

// the highlighted window: [t start, t end, v top, v bottom]
const windowBox = [516, 675, 0.056, -1.11];

const xTicks = [0, 200, 400, 600, 800, 1000];
const yTicks = [0, -0.2, -0.4, -0.6, -0.8, -1.0];

const palette = ['#1f77b4','#ff7f0e','#2ca02c','#d62728','#9467bd','#8c564b','#e377c2','#7f7f7f','#bcbd22','#17becf'];

function toPoints(ts, vs) {
	return vs.map((v, k) => ({ x: ts[k], y: v }));
}

const allSweeps = sweepsA.concat(sweepsB, sweepsC, sweepsD);
const datasets = [
	{ data: toPoints(redHighT, redHighV), borderColor: palette[3] },
	{ data: toPoints(pinkDarkT, pinkDarkV), borderColor: palette[6] },
	{ data: toPoints(greenDarkT, greenDarkV), borderColor: palette[2] }
];
allSweeps.forEach((v, i) => {
	datasets.push({ data: toPoints(T, v), borderColor: palette[i % 10] });
});

const FONT = "'DejaVu Sans', sans-serif";

// frame, red window, title and axis labels
const decorations = {
	id: 'decorations',
	afterDraw(chart) {
		const ctx = chart.ctx;
		const a = chart.chartArea;
		const xs = chart.scales.x, ys = chart.scales.y;
		ctx.save();
		// matplotlib-like box
		ctx.strokeStyle = '#333';
		ctx.lineWidth = 1;
		ctx.strokeRect(a.left + 0.5, a.top + 0.5, a.right - a.left - 1, a.bottom - a.top - 1);
		// red window
		const x0 = xs.getPixelForValue(windowBox[0]);
		const x1 = xs.getPixelForValue(windowBox[1]);
		const y0 = ys.getPixelForValue(windowBox[2]);
		const y1 = ys.getPixelForValue(windowBox[3]);
		ctx.strokeStyle = '#ff0000';
		ctx.lineWidth = 10;
		ctx.lineJoin = 'miter';
		ctx.strokeRect(x0, y0, x1 - x0, y1 - y0);
		// texts
		ctx.fillStyle = '#111';
		ctx.textAlign = 'center';
		ctx.font = '20px ' + FONT;
		ctx.textBaseline = 'alphabetic';
		ctx.fillText('5 V_over, parallel, 3 MHz BW', (a.left + a.right) / 2, 23);
		ctx.font = '15px ' + FONT;
		ctx.textBaseline = 'middle';
		ctx.fillText('T (ns)', (a.left + a.right) / 2, 395);
		ctx.translate(30, (a.top + a.bottom) / 2);
		ctx.rotate(-Math.PI / 2);
		ctx.fillText('V (V)', 0, 0);
		ctx.restore();
	}
};

new Chart(document.getElementById('chart'), {
	type: 'line',
	data: { datasets: datasets },
	options: {
		responsive: false,
		animation: false,
		parsing: false,
		normalized: true,
		layout: { padding: { top: 31, right: 28, left: 0, bottom: 0 } },
		datasets: {
			line: {
				borderWidth: 1.8,
				pointRadius: 0,
				fill: false,
				cubicInterpolationMode: 'monotone',
				clip: 0
			}
		},
		plugins: {
			legend: { display: false },
			tooltip: { enabled: false },
			title: { display: false }
		},
		scales: {
			x: {
				type: 'linear',
				min: 0,
				max: 1011,
				afterFit(scale) { scale.height = 50; },
				afterBuildTicks(scale) { scale.ticks = xTicks.map(v => ({ value: v })); },
				border: { display: false },
				grid: { drawOnChartArea: false, drawTicks: true, tickLength: 5, color: '#333' },
				ticks: {
					color: '#111',
					font: { family: FONT, size: 15 },
					padding: 2,
					maxRotation: 0,
					callback: v => String(v)
				}
			},
			y: {
				type: 'linear',
				min: -1.111,
				max: 0.108,
				afterFit(scale) { scale.width = 95; },
				afterBuildTicks(scale) { scale.ticks = yTicks.map(v => ({ value: v })); },
				border: { display: false },
				grid: { drawOnChartArea: false, drawTicks: true, tickLength: 5, color: '#333' },
				ticks: {
					color: '#111',
					font: { family: FONT, size: 15 },
					padding: 6,
					callback: v => (v < 0 ? '\u2212' : '') + Math.abs(v).toFixed(1)
				}
			}
		}
	},
	plugins: [decorations]
});
</script>
</body>
</html>
